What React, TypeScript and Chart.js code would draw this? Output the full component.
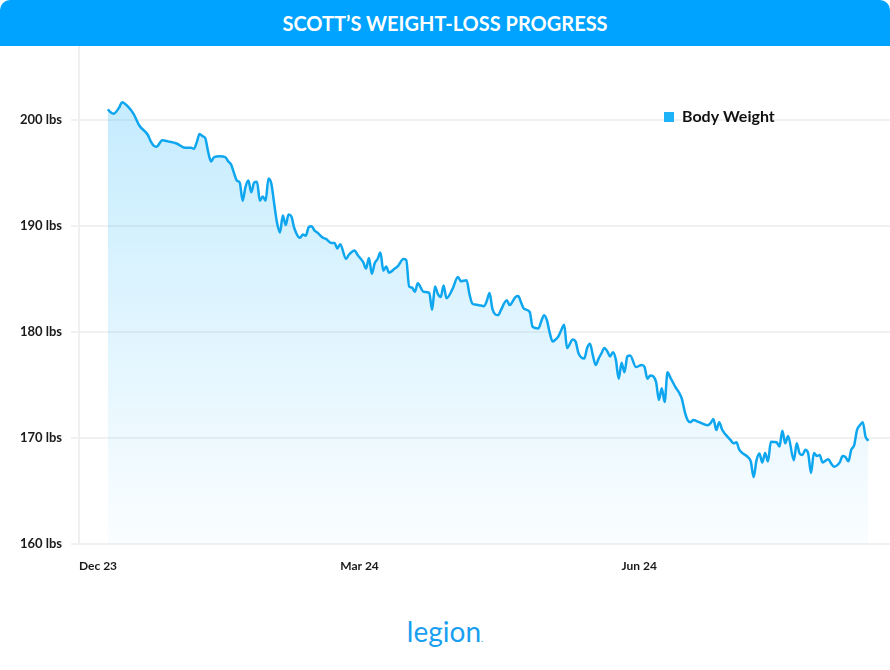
import React, { useEffect, useRef } from "react";
import { Chart, registerables } from "chart.js";

Chart.register(...registerables);

const TITLE = "SCOTT’S WEIGHT-LOSS PROGRESS";
const SERIES_LABEL = "Body Weight";

// days since Dec 1, 2023
const DAYS = [
  10, 12, 14, 15, 17, 19, 21, 24, 25, 26, 27, 29, 31, 34, 37, 39, 40, 41, 42, 43,
  44, 45, 46, 47, 49, 51, 52, 53, 54, 55, 56, 57, 58, 59, 60, 61, 62, 63, 64, 65,
  66, 67, 68, 69, 70, 71, 72, 73, 74, 75, 77, 78, 79, 80, 81, 82, 83, 85, 86, 88,
  89, 90, 91, 93, 94, 96, 97, 99, 100, 101, 102, 103, 104, 105, 106, 107, 108, 110, 111, 113,
  114, 115, 116, 117, 118, 120, 122, 123, 124, 125, 126, 127, 128, 130, 132, 133, 135, 136, 137, 138,
  140, 141, 142, 143, 144, 146, 147, 149, 150, 152, 153, 154, 155, 157, 158, 160, 161, 162, 163, 164,
  165, 166, 167, 168, 169, 170, 172, 173, 174, 176, 177, 178, 179, 180, 181, 182, 183, 184, 185, 186,
  187, 188, 189, 190, 191, 192, 194, 196, 197, 198, 199, 201, 202, 203, 204, 205, 206, 208, 209, 210,
  211, 212, 213, 214, 216, 219, 220, 221, 222, 223, 224, 225, 227, 228, 229, 230, 231, 233, 234, 235,
  236, 237, 238, 239, 240, 241, 243, 244, 245, 246, 247, 249, 250, 251, 252, 253, 254, 255, 256, 257,
  258, 259, 261, 262, 263, 265, 266, 267, 268, 269, 270, 271, 272, 273, 274, 275,
];

const WEIGHTS = [
  201.0, 200.6, 201.2, 201.7, 201.3, 200.6, 199.5, 198.6, 198.0, 197.6, 197.5, 198.1, 198.0, 197.8, 197.4, 197.4, 197.3, 197.9, 198.7, 198.5,
  198.3, 197.0, 196.1, 196.5, 196.6, 196.5, 196.1, 195.8, 195.0, 194.3, 194.1, 192.4, 193.7, 194.3, 193.2, 194.1, 194.2, 192.4, 192.8, 192.4,
  194.5, 194.0, 192.1, 190.3, 189.4, 191.0, 190.1, 191.1, 190.9, 189.8, 188.9, 189.2, 189.1, 189.9, 190.0, 189.6, 189.4, 188.9, 188.8, 188.4,
  188.4, 187.9, 188.3, 186.9, 187.3, 187.7, 187.3, 186.6, 186.0, 187.0, 185.5, 186.5, 186.9, 187.5, 185.8, 186.2, 185.6, 186.0, 186.2, 186.9,
  186.8, 184.3, 184.2, 183.8, 184.6, 183.8, 183.7, 182.1, 184.3, 183.6, 183.3, 184.4, 183.2, 184.0, 185.2, 184.8, 184.9, 183.6, 182.7, 182.6,
  182.5, 182.45, 182.9, 183.7, 182.2, 181.6, 182.1, 183.0, 182.55, 183.3, 183.4, 182.8, 182.2, 181.9, 180.5, 180.35, 181.0, 181.6, 181.1, 179.9,
  179.1, 179.3, 179.6, 180.2, 180.7, 178.5, 179.3, 179.1, 178.0, 177.5, 178.5, 178.9, 177.8, 176.9, 177.5, 178.0, 178.5, 178.2, 177.7, 178.1,
  177.4, 175.6, 177.1, 176.2, 177.7, 177.8, 176.7, 176.9, 176.7, 175.6, 175.9, 175.3, 173.6, 174.7, 173.4, 176.2, 175.7, 174.7, 174.3, 173.7,
  172.5, 171.7, 171.5, 171.7, 171.5, 171.2, 171.4, 171.8, 170.75, 171.5, 170.8, 170.4, 169.8, 169.5, 169.6, 168.9, 168.6, 168.2, 167.8, 166.3,
  167.9, 168.55, 167.7, 168.6, 167.8, 169.65, 169.6, 169.2, 170.7, 169.5, 170.2, 167.9, 169.5, 168.55, 168.4, 168.9, 168.55, 166.7, 168.6, 168.3,
  168.4, 167.7, 168.0, 167.6, 167.3, 167.7, 168.3, 168.2, 167.8, 168.9, 169.3, 170.75, 171.2, 171.5, 170.1, 169.75,
];

const X_TICK_DAYS = [0, 91, 189];
const X_TICK_LABELS = ["Dec 23", "Mar 24", "Jun 24"];
const Y_TICKS = [160, 170, 180, 190, 200];

const LINE_COLOR = "#0fa6f0";
const LEGEND_COLOR = "#1eb2f6";
const HEADER_COLOR = "#00a3ff";

export default function App() {
  const canvasRef = useRef<HTMLCanvasElement>(null);

  useEffect(() => {
    document.body.style.margin = "0";
    const canvas = canvasRef.current;
    if (!canvas) return;

    const legendPlace = {
      id: "legendPlace",
      afterLayout(chart: any) {
        const lg = chart.legend;
        if (!lg) return;
        const left = 654;
        const top = 53;
        lg.left = left;
        lg.top = top;
        lg.right = left + 200;
        lg.bottom = top + 100;
        lg.width = 200;
        lg.height = 100;
      },
    };

    const chart = new Chart(canvas, {
      type: "line",
      data: {
        datasets: [
          {
            label: SERIES_LABEL,
            data: DAYS.map((d, i) => ({ x: d, y: WEIGHTS[i] })),
            borderColor: LINE_COLOR,
            borderWidth: 2.5,
            pointRadius: 0,
            cubicInterpolationMode: "monotone",
            fill: "start",
            backgroundColor: (c: any) => {
              const { ctx, chartArea } = c.chart;
              if (!chartArea) return "rgba(0,170,250,0.15)";
              const g = ctx.createLinearGradient(0, chartArea.top, 0, chartArea.bottom);
              g.addColorStop(0, "rgba(0,170,250,0.25)");
              g.addColorStop(1, "rgba(0,170,250,0.02)");
              return g;
            },
          },
        ],
      },
      options: {
        animation: false,
        responsive: false,
        layout: { padding: 0 },
        plugins: {
          tooltip: { enabled: false },
          legend: {
            position: "chartArea" as any,
            align: "start",
            labels: {
              boxWidth: 10,
              boxHeight: 10,
              padding: 10,
              color: "#111111",
              font: { family: "Lato", size: 16, weight: "bold" },
              generateLabels: (ch: any) =>
                ch.data.datasets.map((ds: any, i: number) => ({
                  text: ds.label,
                  fillStyle: LEGEND_COLOR,
                  strokeStyle: LEGEND_COLOR,
                  lineWidth: 0,
                  hidden: false,
                  datasetIndex: i,
                  fontColor: "#111111",
                })),
            },
          },
        },
        scales: {
          x: {
            type: "linear",
            min: 0,
            max: 282.5,
            afterBuildTicks: (s: any) => {
              s.ticks = X_TICK_DAYS.map((v) => ({ value: v }));
            },
            afterFit: (s: any) => {
              s.height = 56;
              s.paddingLeft = 0;
              s.paddingRight = 0;
            },
            grid: { display: false, drawTicks: false },
            border: { display: false },
            ticks: {
              align: "start",
              padding: 15,
              autoSkip: false,
              maxRotation: 0,
              color: "#1a1a1a",
              font: { family: "Lato", size: 12, weight: "bold" },
              callback: (_v: any, i: number) => X_TICK_LABELS[i] ?? "",
            },
          },
          y: {
            min: 160,
            max: 207,
            afterBuildTicks: (s: any) => {
              s.ticks = Y_TICKS.map((v) => ({ value: v }));
            },
            afterFit: (s: any) => {
              s.width = 79;
              s.paddingTop = 0;
              s.paddingBottom = 0;
            },
            grid: { color: "#f1f1f1", lineWidth: 2, tickLength: 8, drawTicks: true },
            border: { display: true, color: "#efefef", width: 2 },
            ticks: {
              padding: 9,
              color: "#1a1a1a",
              font: { family: "Lato", size: 13, weight: "bold" },
              callback: (v: any) => `${v} lbs`,
            },
          },
        },
      },
      plugins: [legendPlace],
    });

    return () => chart.destroy();
  }, []);

  return (
    <div style={{ width: 890, height: 670, background: "#ffffff", position: "relative", overflow: "hidden" }}>
      <div
        style={{
          width: 890,
          height: 46,
          background: HEADER_COLOR,
          borderRadius: "10px 10px 0 0",
          color: "#ffffff",
          fontFamily: "Lato, sans-serif",
          fontWeight: 700,
          fontSize: 20,
          display: "flex",
          alignItems: "center",
          justifyContent: "center",
          letterSpacing: 0,
        }}
      >
        {TITLE}
      </div>
      <canvas ref={canvasRef} width={890} height={554} style={{ display: "block", width: 890, height: 554 }} />
      <div
        style={{
          position: "absolute",
          top: 618,
          left: 0,
          width: 890,
          textAlign: "center",
          fontFamily: "Lato, sans-serif",
          fontSize: 28,
          lineHeight: "26px",
          color: "#1a9ff0",
        }}
      >
        legion<span style={{ fontSize: 9 }}>.</span>
      </div>
    </div>
  );
}
